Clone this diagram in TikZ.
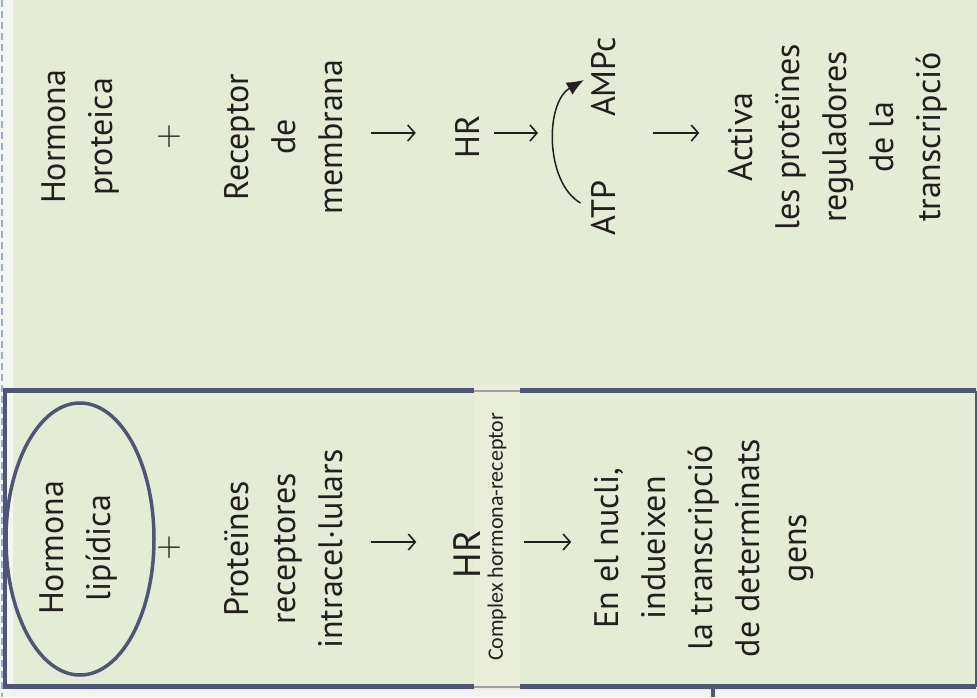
\documentclass[tikz,border=0pt]{standalone}
\usepackage{fontspec}
\setmainfont{PT Sans}
\newfontfamily\notefont{Carlito}
\usetikzlibrary{arrows.meta,shapes.geometric}

\definecolor{leaf}{HTML}{E5ECD5}
\definecolor{slate}{HTML}{4F5577}
\definecolor{ink}{HTML}{231F20}
\definecolor{margin}{HTML}{F3F5F1}
\definecolor{rule}{HTML}{9AAED2}
\definecolor{patch}{HTML}{E8EEDA}

\begin{document}
\begin{tikzpicture}[
    x=1pt, y=-1pt,
    txt/.style={rotate=90, align=center, text=ink, inner sep=2pt, font=\fontsize{34}{47}\selectfont},
    sum/.style={rotate=90, text=ink, inner sep=0pt, scale=3.3, font=\fontsize{10}{12}\selectfont},
    note/.style={rotate=90, text=ink, fill=patch, minimum width=306pt, minimum height=46pt, inner sep=0pt, font=\notefont\fontsize{22}{26}\selectfont},
    ring/.style={ellipse, draw=slate, line width=3.5pt, minimum width=148pt, minimum height=272pt},
    flow/.style={-{Straight Barb[length=7pt,width=16pt]}, line width=1.6pt, ink},
    cyc/.style={-{Latex[length=17pt,width=14pt]}, line width=1.5pt, ink}
]
    \useasboundingbox (0,0) rectangle (977,697);

    % page, margin and frame
    \fill[leaf] (0,0) rectangle (977,690);
    \fill[black!5] (0,690) rectangle (977,697);
    \fill[margin] (0,0) rectangle (13,697);
    \draw[rule, line width=1.2pt, dash pattern=on 7pt off 4pt] (2,0) -- (2,697);
    \draw[slate, line width=4.5pt] (976,390.5) -- (5,390.5) -- (5,686.5) -- (976,686.5);
    \draw[slate, line width=2pt] (976,390.5) -- (976,686.5);
    \draw[slate, line width=3.5pt] (713,688) -- (713,697);

    % protein hormone
    \node[txt] (hprot) at (80,137) {Hormona\\proteica};
    \node[sum] (plusa) at (169,137) {$+$};
    \node[txt] (recep) at (283.5,137) {Receptor\\de\\membrana};
    \node[txt] (hra) at (467,137) {HR};
    \node[txt] (atp) at (603.5,208) {ATP};
    \node[txt] (ampc) at (603.5,77) {AMPc};
    \coordinate (camp) at (552,137);
    \node[txt] (activa) at (838,137) {Activa\\les proteïnes\\reguladores\\de la\\transcripció};

    \draw[flow, shorten <=26pt, shorten >=37pt] ([yshift=4pt]recep.south) -- ([yshift=4pt]hra.north);
    \draw[flow, shorten <=13pt, shorten >=14pt] ([yshift=4pt]hra.south) -- ([yshift=4pt]camp);
    \draw[flow, shorten <=101pt, shorten >=27pt] ([yshift=4pt]camp) -- ([yshift=4pt]activa.north);
    \draw[cyc, shorten <=10pt, shorten >=6pt] (atp.north) to[bend left=60] (ampc.north);

    % lipid hormone
    \node[txt] (hlip) at (78.5,548) {Hormona\\lipídica};
    \node[ring] (oval) at (80,539) {};
    \node[sum] (plusb) at (169,548) {$+$};
    \node[txt] (prot) at (283.5,549) {Proteïnes\\receptores\\intracel·lulars};
    \node[note] (cplx) at (497,537) {Complex hormona-receptor};
    \draw[gray!75, line width=2pt] (474,390.5) -- (520,390.5);
    \draw[gray!75, line width=2pt] (474,686.5) -- (520,686.5);
    \node[txt, font=\fontsize{38}{47}\selectfont] (hrb) at (467,554) {HR};
    \node[txt] (nucli) at (704,548) {En el nucli,\\indueixen\\la transcripció\\de determinats\\gens};

    \draw[flow, shorten <=26pt, shorten >=35pt] ([yshift=7pt]prot.south) -- ([yshift=7pt]prot.south -| hrb.north);
    \draw[flow, shorten <=41pt, shorten >=21pt] ([yshift=12pt]hrb.south) -- ([yshift=12pt]hrb.south -| nucli.north);
\end{tikzpicture}
\end{document}
